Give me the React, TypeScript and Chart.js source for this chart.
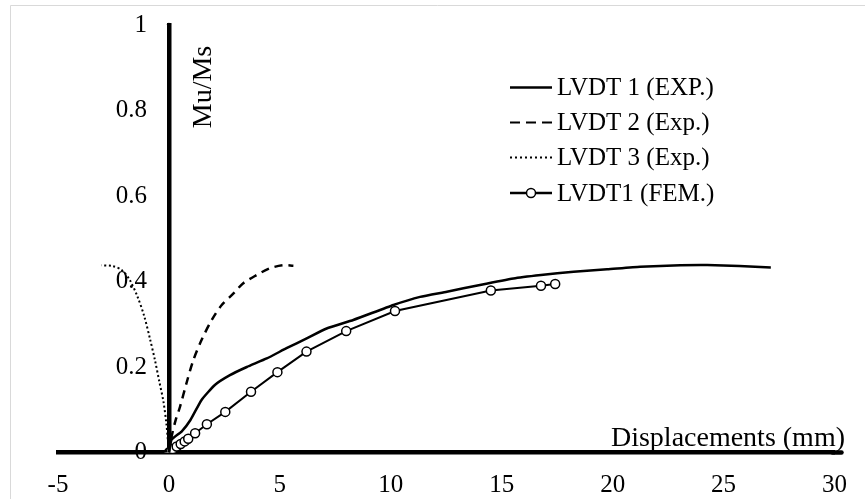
import React, { useEffect, useRef } from "react";
import { Chart, registerables } from "chart.js";

Chart.register(...registerables);

const lvdt1ExpX = [0, 0.12, 0.57, 0.97, 1.47, 2.07, 2.75, 3.51, 4.41, 5.3, 6.21, 7.11, 8.31, 10.12, 11.32, 12.53, 14.02, 15.53, 16.77, 18.24, 19.75, 21.24, 23.05, 24.26, 25.71, 27.13];
const lvdt1ExpY = [0, 0.03, 0.049, 0.076, 0.123, 0.158, 0.181, 0.2, 0.22, 0.244, 0.267, 0.29, 0.31, 0.345, 0.364, 0.376, 0.392, 0.407, 0.415, 0.423, 0.4285, 0.4346, 0.438, 0.4386, 0.436, 0.433];

const lvdt2ExpX = [0, 0.12, 0.3, 0.5, 0.79, 1.1, 1.47, 1.93, 2.38, 2.91, 3.35, 3.95, 4.55, 5.15, 5.61];
const lvdt2ExpY = [0, 0.037, 0.075, 0.107, 0.162, 0.216, 0.263, 0.31, 0.345, 0.372, 0.396, 0.415, 0.431, 0.438, 0.437];

const lvdt3ExpX = [0, -0.05, -0.12, -0.25, -0.43, -0.63, -0.85, -1.12, -1.42, -1.76, -2.13, -2.54, -3.04];
const lvdt3ExpY = [0, 0.03, 0.07, 0.12, 0.165, 0.216, 0.265, 0.32, 0.365, 0.403, 0.427, 0.436, 0.438];

const lvdt1FemX = [0, 0.05, 0.1, 0.17, 0.35, 0.53, 0.71, 0.87, 1.18, 1.71, 2.54, 3.7, 4.89, 6.2, 7.99, 10.19, 14.51, 16.77, 17.41];
const lvdt1FemY = [0, 0.002, 0.004, 0.008, 0.014, 0.02, 0.026, 0.032, 0.045, 0.066, 0.095, 0.142, 0.188, 0.236, 0.284, 0.331, 0.379, 0.39, 0.394];

const seriesNames = ["LVDT 1 (EXP.)", "LVDT 2 (Exp.)", "LVDT 3 (Exp.)", "LVDT1 (FEM.)"];
const xTitle = "Displacements (mm)";
const yTitle = "Mu/Ms";
const xTickLabels = ["-5", "0", "5", "10", "15", "20", "25", "30"];
const yTickLabels = ["0", "0.2", "0.4", "0.6", "0.8", "1"];
const xMin = -5, xMax = 30, xStep = 5;
const yMin = 0, yMax = 1, yStep = 0.2;

const FONT = "'Liberation Serif', 'Times New Roman', serif";

const zip = (xs: number[], ys: number[]) => xs.map((x, i) => ({ x, y: ys[i] }));

const shiftYLabels = {
  id: "shiftYLabels",
  beforeDraw(chart: any) {
    const s = chart.scales.y;
    const items = s.getLabelItems(chart.chartArea);
    if (!(items as any).__shifted) {
      items.forEach((it: any) => {
        it.options.translation[0] -= 22;
      });
      (items as any).__shifted = true;
    }
  },
};

const overlay = {
  id: "overlay",
  afterDraw(chart: any) {
    const ctx = chart.ctx as CanvasRenderingContext2D;
    ctx.save();
    // frame
    ctx.strokeStyle = "#d9d9d9";
    ctx.lineWidth = 1;
    ctx.beginPath();
    ctx.moveTo(10.5, 499);
    ctx.lineTo(10.5, 5.5);
    ctx.lineTo(865, 5.5);
    ctx.stroke();

    // rounded top of the vertical axis
    const ya = chart.scales.x.getPixelForValue(0);
    ctx.fillStyle = "#000";
    ctx.beginPath();
    ctx.arc(ya, chart.chartArea.top, 2.25, Math.PI, 0);
    ctx.fill();

    // horizontal axis runs slightly past the last tick
    const xa = chart.scales.y.getPixelForValue(0);
    ctx.strokeStyle = "#000";
    ctx.lineWidth = 4.5;
    ctx.lineCap = "round";
    ctx.beginPath();
    ctx.moveTo(chart.chartArea.right - 2, xa);
    ctx.lineTo(chart.chartArea.right + 7, xa);
    ctx.stroke();
    ctx.lineCap = "butt";

    // axis titles
    ctx.font = `28px ${FONT}`;
    ctx.textAlign = "right";
    ctx.textBaseline = "alphabetic";
    ctx.fillText(xTitle, 845, 446);
    ctx.save();
    ctx.translate(204, 87);
    ctx.rotate(-Math.PI / 2);
    ctx.textAlign = "center";
    ctx.textBaseline = "middle";
    ctx.fillText(yTitle, 0, 0);
    ctx.restore();

    // legend
    const rows = [87.5, 122.5, 157.5, 193];
    const x0 = 510, x1 = 552;
    ctx.font = `25px ${FONT}`;
    ctx.textAlign = "left";
    ctx.textBaseline = "middle";
    rows.forEach((ry, i) => {
      ctx.save();
      ctx.strokeStyle = "#000";
      ctx.beginPath();
      if (i === 0) { ctx.lineWidth = 2.5; ctx.setLineDash([]); }
      if (i === 1) { ctx.lineWidth = 2; ctx.setLineDash([10, 6]); }
      if (i === 2) { ctx.lineWidth = 2; ctx.setLineDash([2, 3]); }
      if (i === 3) { ctx.lineWidth = 2.5; ctx.setLineDash([]); }
      ctx.moveTo(x0, ry);
      ctx.lineTo(x1, ry);
      ctx.stroke();
      if (i === 3) {
        ctx.beginPath();
        ctx.arc((x0 + x1) / 2, ry, 4.5, 0, Math.PI * 2);
        ctx.fillStyle = "#fff";
        ctx.fill();
        ctx.lineWidth = 1.5;
        ctx.stroke();
      }
      ctx.restore();
      ctx.fillText(seriesNames[i], 557, ry + 1);
    });
    ctx.restore();
  },
};

const zeroPadding = (scale: any) => {
  scale.paddingTop = 0;
  scale.paddingBottom = 0;
  scale.paddingLeft = 0;
  scale.paddingRight = 0;
};

export default function App() {
  const ref = useRef<HTMLCanvasElement>(null);
  useEffect(() => {
    if (!ref.current) return;
    const chart = new Chart(ref.current, {
      type: "scatter",
      data: {
        datasets: [
          {
            label: seriesNames[0],
            data: zip(lvdt1ExpX, lvdt1ExpY),
            showLine: true,
            borderColor: "#000",
            borderWidth: 2.5,
            pointRadius: 0,
            tension: 0.15,
          },
          {
            label: seriesNames[1],
            data: zip(lvdt2ExpX, lvdt2ExpY),
            showLine: true,
            borderColor: "#000",
            borderWidth: 2.5,
            borderDash: [8, 6],
            pointRadius: 0,
            tension: 0.3,
          },
          {
            label: seriesNames[2],
            data: zip(lvdt3ExpX, lvdt3ExpY),
            showLine: true,
            borderColor: "#000",
            borderWidth: 2,
            borderDash: [2, 2.5],
            pointRadius: 0,
            tension: 0.3,
          },
          {
            label: seriesNames[3],
            data: zip(lvdt1FemX, lvdt1FemY),
            showLine: true,
            borderColor: "#000",
            borderWidth: 2,
            pointRadius: 4.5,
            pointBackgroundColor: "#fff",
            pointBorderColor: "#000",
            pointBorderWidth: 1.5,
          },
        ],
      },
      options: {
        animation: false,
        responsive: false,
        layout: { padding: { left: 58, right: 30.5, top: 25, bottom: 46.5 } },
        plugins: { legend: { display: false }, tooltip: { enabled: false } },
        scales: {
          x: {
            type: "linear",
            position: { y: 0 } as any,
            min: xMin,
            max: xMax,
            afterFit: zeroPadding,
            grid: { display: false, drawTicks: false },
            border: { display: true, color: "#000", width: 4.5 },
            ticks: {
              stepSize: xStep,
              color: "#000",
              font: { family: FONT, size: 25 },
              padding: 18,
              callback: (v: any) => xTickLabels[Math.round((Number(v) - xMin) / xStep)] ?? "",
            },
          },
          y: {
            type: "linear",
            position: { x: 0 } as any,
            min: yMin,
            max: yMax,
            afterFit: zeroPadding,
            grid: { display: false, drawTicks: false },
            border: { display: true, color: "#000", width: 4.5 },
            ticks: {
              stepSize: yStep,
              color: "#000",
              font: { family: FONT, size: 25 },
              padding: 0,
              callback: (v: any) => yTickLabels[Math.round((Number(v) - yMin) / yStep)] ?? "",
            },
          },
        },
      },
      plugins: [shiftYLabels, overlay],
    });
    return () => chart.destroy();
  }, []);
  return (
    <div style={{ position: "absolute", left: 0, top: 0, width: 865, height: 499, background: "#fff" }}>
      <canvas ref={ref} width={865} height={499} />
    </div>
  );
}
